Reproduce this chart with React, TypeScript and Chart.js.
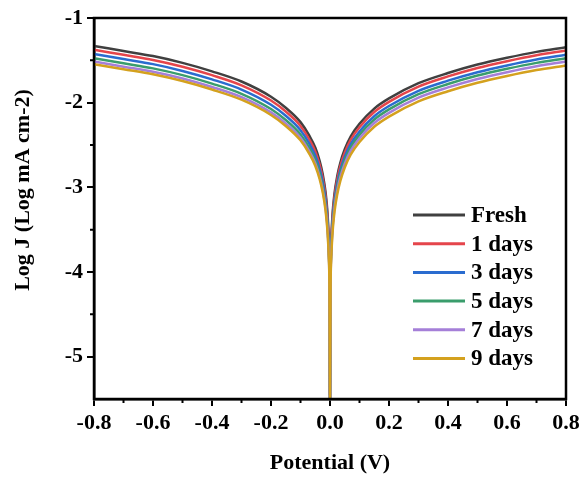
import React, { useEffect, useRef } from "react";
import { Chart, registerables } from "chart.js";

Chart.register(...registerables);

// Potential (V)
const potentials = [
  -0.8, -0.7, -0.6, -0.5, -0.4, -0.3, -0.2, -0.15, -0.1, -0.07, -0.05, -0.035, -0.025, -0.015, -0.008, -0.004, -0.002,
  0,
  0.002, 0.004, 0.008, 0.015, 0.025, 0.035, 0.05, 0.07, 0.1, 0.15, 0.2, 0.3, 0.4, 0.5, 0.6, 0.7, 0.8,
];

// Log J (Log mA cm-2)
const fresh = [
  -1.33, -1.39, -1.45, -1.53, -1.63, -1.75, -1.93, -2.06, -2.23, -2.39, -2.53, -2.69, -2.84, -3.06, -3.33, -3.63, -3.93,
  -5.5,
  -3.95, -3.65, -3.35, -3.08, -2.86, -2.71, -2.55, -2.4, -2.25, -2.07, -1.95, -1.77, -1.65, -1.55, -1.47, -1.4, -1.345,
];
const days1 = [
  -1.375, -1.435, -1.495, -1.575, -1.675, -1.795, -1.975, -2.105, -2.275, -2.435, -2.575, -2.735, -2.885, -3.105, -3.375, -3.675, -3.975,
  -5.5,
  -3.99, -3.69, -3.39, -3.12, -2.9, -2.75, -2.59, -2.44, -2.29, -2.11, -1.99, -1.81, -1.69, -1.59, -1.51, -1.44, -1.385,
];
const days3 = [
  -1.425, -1.485, -1.545, -1.625, -1.725, -1.845, -2.025, -2.155, -2.325, -2.485, -2.625, -2.785, -2.935, -3.155, -3.425, -3.725, -4.025,
  -5.5,
  -4.04, -3.74, -3.44, -3.17, -2.95, -2.8, -2.64, -2.49, -2.34, -2.16, -2.04, -1.86, -1.74, -1.64, -1.56, -1.49, -1.435,
];
const days5 = [
  -1.475, -1.535, -1.595, -1.675, -1.775, -1.895, -2.075, -2.205, -2.375, -2.535, -2.675, -2.835, -2.985, -3.205, -3.475, -3.775, -4.075,
  -5.5,
  -4.08, -3.78, -3.48, -3.21, -2.99, -2.84, -2.68, -2.53, -2.38, -2.2, -2.08, -1.9, -1.78, -1.68, -1.6, -1.53, -1.475,
];
const days7 = [
  -1.515, -1.575, -1.635, -1.715, -1.815, -1.935, -2.115, -2.245, -2.415, -2.575, -2.715, -2.875, -3.025, -3.245, -3.515, -3.815, -4.115,
  -5.5,
  -4.12, -3.82, -3.52, -3.25, -3.03, -2.88, -2.72, -2.57, -2.42, -2.24, -2.12, -1.94, -1.82, -1.72, -1.64, -1.57, -1.515,
];
const days9 = [
  -1.545, -1.605, -1.665, -1.745, -1.845, -1.965, -2.145, -2.275, -2.445, -2.605, -2.745, -2.905, -3.055, -3.275, -3.545, -3.845, -4.145,
  -5.5,
  -4.165, -3.865, -3.565, -3.295, -3.075, -2.925, -2.765, -2.615, -2.465, -2.285, -2.165, -1.985, -1.865, -1.765, -1.685, -1.615, -1.56,
];

const seriesNames = ["Fresh", "1 days", "3 days", "5 days", "7 days", "9 days"];
const seriesColors = ["#404040", "#e5454b", "#2a6ccf", "#3a9d6c", "#a57fd8", "#d4a11e"];

const xTicks = [-0.8, -0.6, -0.4, -0.2, 0, 0.2, 0.4, 0.6, 0.8];
const xMinorTicks = [-0.7, -0.5, -0.3, -0.1, 0.1, 0.3, 0.5, 0.7];
const yTicks = [-5, -4, -3, -2, -1];
const yMinorTicks = [-4.5, -3.5, -2.5, -1.5];

const xTitle = "Potential (V)";
const yTitle = "Log J (Log mA cm-2)";

const FONT = "'Times New Roman', 'Liberation Serif', serif";

export default function App() {
  const ref = useRef<HTMLCanvasElement>(null);

  useEffect(() => {
    document.body.style.margin = "0";
    const canvas = ref.current;
    if (!canvas) return;
    const allSeries = [fresh, days1, days3, days5, days7, days9];

    const datasets = allSeries
      .map((vals, i) => ({
        label: seriesNames[i],
        data: potentials.map((x, j) => ({ x, y: vals[j] })),
        borderColor: seriesColors[i],
        backgroundColor: seriesColors[i],
        borderWidth: 2.5,
        pointRadius: 0,
        cubicInterpolationMode: "monotone" as const,
        fill: false,
      }))
      .reverse();

    const framePlugin = {
      id: "frameAndLegend",
      afterDraw(chart: any) {
        const { ctx, chartArea: a, scales } = chart;
        ctx.save();
        ctx.strokeStyle = "#000";
        ctx.lineWidth = 2.5;
        ctx.strokeRect(a.left, a.top, a.right - a.left, a.bottom - a.top);
        ctx.lineWidth = 2;
        ctx.beginPath();
        xMinorTicks.forEach((v) => {
          const px = scales.x.getPixelForValue(v);
          ctx.moveTo(px, a.bottom);
          ctx.lineTo(px, a.bottom + 4);
        });
        yMinorTicks.forEach((v) => {
          const py = scales.y.getPixelForValue(v);
          ctx.moveTo(a.left, py);
          ctx.lineTo(a.left - 4, py);
        });
        ctx.stroke();

        // y axis title
        ctx.save();
        ctx.translate(23, 190);
        ctx.rotate(-Math.PI / 2);
        ctx.font = `bold 22px ${FONT}`;
        ctx.fillStyle = "#000";
        ctx.textAlign = "center";
        ctx.textBaseline = "middle";
        ctx.fillText(yTitle, 0, 0);
        ctx.restore();

        // legend
        const x0 = 413;
        const x1 = 465;
        const tx = 471;
        const y0 = 215;
        const gap = 28.7;
        ctx.font = `bold 23px ${FONT}`;
        ctx.textBaseline = "middle";
        ctx.textAlign = "left";
        seriesNames.forEach((name, i) => {
          const y = y0 + i * gap;
          ctx.strokeStyle = seriesColors[i];
          ctx.lineWidth = 3;
          ctx.beginPath();
          ctx.moveTo(x0, y);
          ctx.lineTo(x1, y);
          ctx.stroke();
          ctx.fillStyle = "#000";
          ctx.fillText(name, tx, y + 1);
        });
        ctx.restore();
      },
    };

    const chart = new Chart(canvas, {
      type: "line",
      data: { datasets },
      plugins: [framePlugin],
      options: {
        animation: false,
        responsive: false,
        parsing: false as any,
        layout: { padding: { top: 18, right: 15, left: 0, bottom: 0 } },
        plugins: { legend: { display: false }, tooltip: { enabled: false } },
        scales: {
          x: {
            type: "linear",
            min: -0.8,
            max: 0.8,
            afterBuildTicks: (s: any) => {
              s.ticks = xTicks.map((v) => ({ value: v }));
            },
            afterFit: (s: any) => {
              s.height = 78;
              s.paddingLeft = 0;
              s.paddingRight = 0;
            },
            ticks: {
              color: "#000",
              font: { family: FONT, size: 22, weight: "bold" },
              padding: 4,
              maxRotation: 0,
              autoSkip: false,
              callback: (v: any) => Number(v).toFixed(1),
            },
            grid: { drawOnChartArea: false, tickLength: 7, color: "#000", lineWidth: 2 },
            border: { color: "#000", width: 2.5 },
            title: {
              display: true,
              text: xTitle,
              color: "#000",
              font: { family: FONT, size: 22, weight: "bold" },
              padding: { top: 2, bottom: 0 },
            },
          },
          y: {
            type: "linear",
            min: -5.5,
            max: -1,
            afterBuildTicks: (s: any) => {
              s.ticks = yTicks.map((v) => ({ value: v }));
            },
            afterFit: (s: any) => {
              s.width = 94;
              s.paddingTop = 0;
              s.paddingBottom = 0;
            },
            ticks: {
              color: "#000",
              font: { family: FONT, size: 22, weight: "bold" },
              padding: 4,
              autoSkip: false,
            },
            grid: { drawOnChartArea: false, tickLength: 7, color: "#000", lineWidth: 2 },
            border: { color: "#000", width: 2.5 },
            title: { display: false },
          },
        },
      } as any,
    });

    return () => chart.destroy();
  }, []);

  return <canvas ref={ref} width={581} height={477} style={{ display: "block" }} />;
}
